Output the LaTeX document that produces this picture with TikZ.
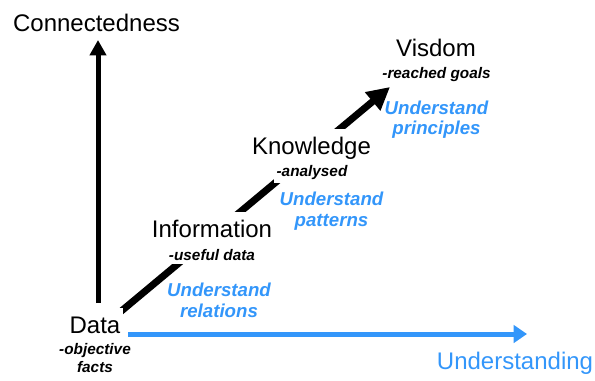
\documentclass[tikz,border=0pt]{standalone}
\usepackage{fontspec}
\setmainfont{Liberation Sans}
\usetikzlibrary{arrows.meta}
\definecolor{axisblue}{RGB}{51,150,250}
\pgfdeclarelayer{back}
\pgfsetlayers{back,main}
\begin{document}
\begin{tikzpicture}[x=0.75pt,y=-0.75pt,
  level/.style={font=\fontsize{18}{21}\selectfont, anchor=base, inner xsep=2pt, inner ysep=6pt},
  note/.style={font=\fontsize{11.5}{13.5}\selectfont\bfseries\itshape, anchor=base, align=center, inner xsep=2pt, inner ysep=2.8pt},
  insight/.style={font=\fontsize{14}{15.5}\selectfont\bfseries\itshape, text=axisblue, align=center, anchor=base},
  axislabel/.style={font=\fontsize{18}{21}\selectfont, anchor=base},
  cover/.style={fill=white},
  rise/.style={line width=5.25pt, -{Triangle[length=17pt,width=17pt]}},
  vaxis/.style={line width=3.75pt, -{Triangle[length=11.5pt,width=12pt]}},
  haxis/.style={draw=axisblue, line width=3.75pt, -{Triangle[length=10pt,width=13pt]}}
]
\path[use as bounding box] (0,0) rectangle (595,381);

% stages of the hierarchy (two-line nodes are placed by their last baseline)
\node[level, cover] (data) at (95,333) {Data};
\node[note] (datanote) at (95,372) {-objective\\facts};
\node[level, cover] (info) at (212,237.5) {Information};
\node[note, cover] (infonote) at (212,260) {-useful data};
\node[level, cover] (know) at (311.5,154) {Knowledge};
\node[note, cover] (knownote) at (312,176) {-analysed};
\node[level] (wis) at (436,56.5) {Visdom};
\node[note] (wisnote) at (436.5,79) {-reached goals};

% what is understood between stages
\node[insight] (rel) at (219,317) {Understand\\relations};
\node[insight] (pat) at (331.5,226) {Understand\\patterns};
\node[insight] (pri) at (436.5,135) {Understand\\principles};

% axis titles
\node[axislabel] (conn) at (96.5,32) {Connectedness};
\node[axislabel, text=axisblue] (und) at (515,369) {Understanding};

% axis and arrow end points
\coordinate (vbase) at (98,303);
\coordinate (vtip) at (98,40);
\coordinate (hbase) at (128,334);
\coordinate (htip) at (527,334);
\coordinate (rtip) at (390,87);

\draw[vaxis] (vbase) -- (vtip);
\draw[haxis] (hbase) -- (htip);
\begin{pgfonlayer}{back}
  \draw[rise] (data.base) -- (rtip);
\end{pgfonlayer}
\end{tikzpicture}
\end{document}
